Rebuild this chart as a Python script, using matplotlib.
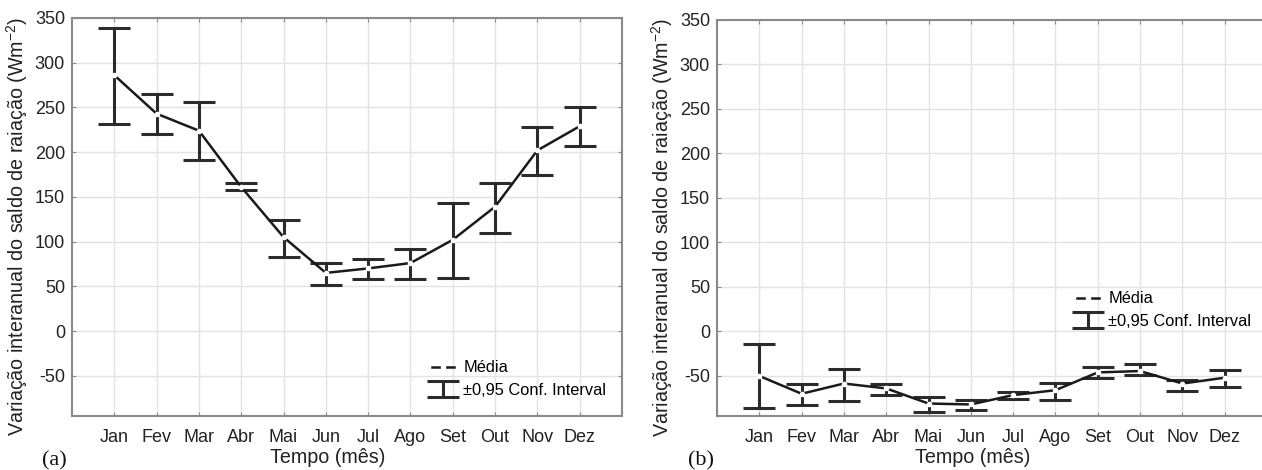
import numpy as np
import matplotlib
matplotlib.use("Agg")
import matplotlib.pyplot as plt

plt.rcParams['font.family'] = ['Liberation Sans', 'DejaVu Sans']
plt.rcParams['axes.unicode_minus'] = False
plt.rcParams['mathtext.default'] = 'regular'

# Mois et valeurs (W m-2)
meses = ['Jan', 'Fev', 'Mar', 'Abr', 'Mai', 'Jun', 'Jul', 'Ago', 'Set', 'Out', 'Nov', 'Dez']

media_a = [286, 243, 224, 161, 105, 65, 70, 76, 102, 139, 202, 229]
sup_a = [339, 265, 256, 165, 124, 76, 81, 92, 143, 166, 228, 250]
inf_a = [232, 220, 191, 158, 83, 52, 58, 58, 59, 110, 174, 207]

media_b = [-50, -70, -58.5, -64, -81, -82, -71.5, -66, -46, -44.5, -58.5, -52]
sup_b = [-14, -58.5, -42, -58.5, -74, -76.5, -68.5, -58, -40, -37, -54, -43]
inf_b = [-86.5, -83, -78, -71.5, -90, -88.5, -76, -76.5, -52, -49, -67, -62.5]

yticks = [-50, 0, 50, 100, 150, 200, 250, 300, 350]

W, H = 1262, 470
fig = plt.figure(figsize=(W / 100, H / 100), dpi=100)

ax_a = fig.add_axes([72 / W, 1 - 416 / H, 550 / W, 398 / H])
ax_b = fig.add_axes([717 / W, 1 - 416 / H, 550 / W, 396 / H])


def painel(ax, media, sup, inf, leg_pos):
    x = np.arange(1, len(meses) + 1)
    media = np.array(media)
    yerr = [media - np.array(inf), np.array(sup) - media]
    eb = ax.errorbar(x, media, yerr=yerr, fmt='none', ecolor='#2b2b2b',
                     elinewidth=2.2, capsize=11.5, capthick=2.2, zorder=3,
                     label='±0,95 Conf. Interval')
    ln, = ax.plot(x, media, color='#1a1a1a', lw=1.8, marker='o', ms=3,
                  mfc='white', mec='white', zorder=4, label='Média')
    ax.set_xlim(0, 13)
    ax.set_ylim(-95, 350)
    ax.set_xticks(x)
    ax.set_xticklabels(meses)
    ax.set_yticks(yticks)
    ax.grid(True, color='#e3e3e3', lw=1.0)
    ax.set_axisbelow(True)
    for s in ax.spines.values():
        s.set_color('#8a8a8a')
        s.set_linewidth(1.5)
    ax.tick_params(direction='in', length=3, color='#8a8a8a', labelsize=13,
                   top=True, right=True, labelcolor='#222222')
    ax.tick_params(axis='x', pad=9)
    ax.tick_params(axis='y', pad=5)
    ax.set_ylabel('Variação interanual do saldo de raiação (Wm$^{-2}$)',
                  fontsize=14.2, color='#222222')
    ax.yaxis.set_label_coords(-0.076, 0.475)
    ax.set_xlabel('Tempo (mês)', fontsize=14.2, color='#222222')
    ax.xaxis.set_label_coords(0.464, -0.08)
    ax.legend([ln, eb], ['Média', '±0,95 Conf. Interval'], loc='upper left',
              bbox_to_anchor=leg_pos, frameon=False, fontsize=11.8,
              borderpad=0, borderaxespad=0, handlelength=1.3, numpoints=1,
              handletextpad=0.6, labelspacing=0.45)


painel(ax_a, media_a, sup_a, inf_a, (0.655, 0.14))
painel(ax_b, media_b, sup_b, inf_b, (0.655, 0.315))

fig.text(42 / W, 1 - 461 / H, '(a)', family='Liberation Serif', fontsize=16,
         va='center', ha='left', color='#111111')
fig.text(688 / W, 1 - 461 / H, '(b)', family='Liberation Serif', fontsize=16,
         va='center', ha='left', color='#111111')

fig.savefig('out.png', dpi=100)
